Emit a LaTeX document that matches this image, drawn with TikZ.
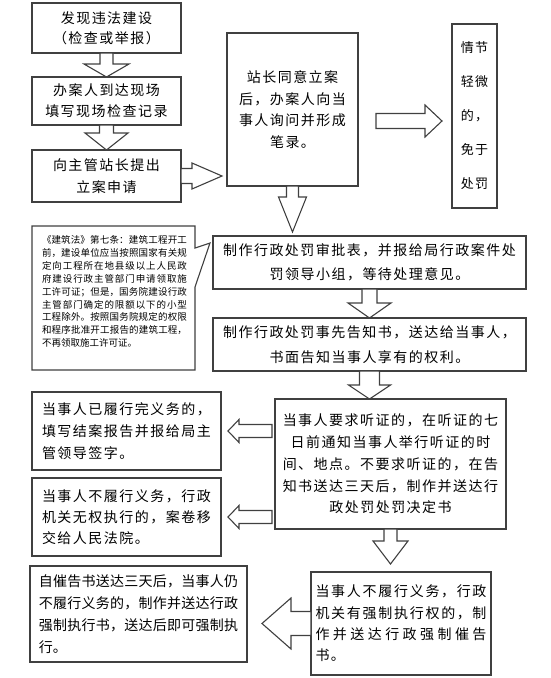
\documentclass[tikz,border=0pt]{standalone}
\usepackage{fontspec}
\setmainfont{Noto Sans CJK SC}[LetterSpace=10.7]
\newfontfamily\cjktight{Noto Sans CJK SC}[LetterSpace=1.5]
\newfontfamily\cjknote{Noto Sans CJK SC}
\XeTeXlinebreaklocale "zh"
\XeTeXlinebreakskip=0pt plus 3pt
\usetikzlibrary{positioning, calc}
\definecolor{clrborder}{HTML}{404040}
\definecolor{clrtext}{HTML}{000000}
\newcommand{\blockarrow}[5]{%
  \coordinate (ba_base) at ($(#2)!#5!(#1)$);
  \draw[barrow] ($(#1)!#3!90:(#2)$) -- ($(ba_base)!#3!90:(#2)$) -- ($(ba_base)!#4!90:(#2)$) -- (#2)
    -- ($(ba_base)!#4!-90:(#2)$) -- ($(ba_base)!#3!-90:(#2)$) -- ($(#1)!#3!-90:(#2)$) -- cycle;
}

\begin{document}
\begin{tikzpicture}[
    x=1pt, y=-1pt,
    box/.style={draw=clrborder, fill=white, line width=1.1pt, inner sep=0pt, outer sep=0pt,
                text=clrtext, font=\fontsize{14pt}{22pt}\selectfont, align=center},
    barrow/.style={draw=clrborder, fill=white, line width=1.1pt, line join=miter},
    notebox/.style={draw=clrborder, fill=white, line width=1.1pt, line join=miter},
    note/.style={font=\cjknote\fontsize{9.5pt}{12.9pt}\selectfont, text=clrtext,
                 text width=145pt, align=justify, inner sep=0pt},
]
\useasboundingbox (0,0) rectangle (550,678);
\node[box, minimum width=149pt, minimum height=50pt, font=\fontsize{14pt}{20pt}\selectfont] (n_1) at (106.5,28) {发现违法建设\\（检查或举报）};
\node[box, minimum width=149pt, minimum height=48pt, font=\fontsize{14pt}{21pt}\selectfont, below=24pt of n_1] (n_2) {办案人到达现场\\填写现场检查记录};
\node[box, minimum width=149pt, minimum height=52pt, below=25pt of n_2] (n_3) {向主管站长提出\\立案申请};
\node[box, minimum width=131pt, minimum height=153pt, font=\fontsize{14pt}{21.7pt}\selectfont] (n_4) at (292.5,109.5) {站长同意立案\\后，办案人向当\\事人询问并形成\\笔录。};
\node[box, minimum width=45pt, minimum height=184pt, align=left, font=\fontsize{13pt}{34pt}\selectfont] (n_5) at (474.5,116) {情节\\轻微\\的，\\免于\\处罚};
\node[box, minimum width=313pt, minimum height=53pt, font=\fontsize{14pt}{24pt}\selectfont] (n_7) at (369.5,262.5) {制作行政处罚审批表，并报给局行政案件处\\罚领导小组，等待处理意见。};
\node[box, minimum width=313pt, minimum height=53pt, font=\fontsize{14pt}{24.5pt}\selectfont, below=29pt of n_7] (n_8) {制作行政处罚事先告知书，送达给当事人，\\书面告知当事人享有的权利。};
\node[box, minimum width=231pt, minimum height=130pt, font=\fontsize{14pt}{21.8pt}\selectfont] (n_11) at (390.5,464) {当事人要求听证的，在听证的七\\日前通知当事人举行听证的时\\间、地点。不要求听证的，在告\\知书送达三天后，制作并送达行\\政处罚处罚决定书};
\node[box, minimum width=189pt, minimum height=78pt, align=left] (n_9) at (126.5,431) {当事人已履行完义务的，\\填写结案报告并报给局主\\管领导签字。};
\node[box, minimum width=189pt, minimum height=78pt, align=left, font=\fontsize{14pt}{21pt}\selectfont, below=8pt of n_9] (n_10) {当事人不履行义务，行政\\机关无权执行的，案卷移\\交给人民法院。};
\node[box, minimum width=180pt, minimum height=103pt, text width=171pt, align=justify, font=\fontsize{14pt}{21.3pt}\selectfont] (n_12) at (401,623.5) {当事人不履行义务，行政\break 机关有强制执行权的，制\break 作并送达行政强制催告\break 书。};
\node[box, minimum width=217pt, minimum height=96pt, text width=199.5pt, align=justify, font=\cjktight\fontsize{14pt}{22pt}\selectfont] (n_13) at (138.5,614) {自催告书送达三天后，当事人仍\break 不履行义务的，制作并送达行政\break 强制执行书，送达后即可强制执\break 行。};
\coordinate[xshift=-3pt, yshift=-7pt] (c_tip) at (n_7.north west);
\draw[notebox] (32,226) -- (195,226) -- (195,248) -- (c_tip) -- (195,287) -- (195,370) -- (32,370) -- cycle;
\node[note] (n_6) at (114.5,291.5) {《建筑法》第七条：建筑工程开工\break 前，建设单位应当按照国家有关规\break 定向工程所在地县级以上人民政\break 府建设行政主管部门申请领取施\break 工许可证；但是，国务院建设行政\break 主管部门确定的限额以下的小型\break 工程除外。按照国务院规定的权限\break 和程序批准开工报告的建筑工程，\break 不再领取施工许可证。};
\blockarrow{n_1.south}{n_2.north}{6.5pt}{22.5pt}{13pt}
\blockarrow{n_2.south}{n_3.north}{7pt}{21.5pt}{17pt}
\coordinate[xshift=41pt] (t_3) at (n_3.east);
\blockarrow{n_3.east}{t_3}{7.5pt}{13pt}{30pt}
\coordinate (s_5) at (376,121);
\coordinate (t_5) at (442,121);
\blockarrow{s_5}{t_5}{7.5pt}{16pt}{17pt}
\coordinate[yshift=4pt] (t_4) at (n_4.south |- n_7.north);
\blockarrow{n_4.south}{t_4}{6pt}{14pt}{35pt}
\blockarrow{n_7.south}{n_8.north}{7.5pt}{21.5pt}{15pt}
\coordinate (t_8) at (n_8.south |- n_11.north);
\blockarrow{n_8.south}{t_8}{10pt}{21pt}{14pt}
\coordinate[yshift=8pt] (t_11) at (n_11.south |- n_12.north);
\blockarrow{n_11.south}{t_11}{6.5pt}{17.5pt}{23pt}
\coordinate[xshift=-3pt] (s_9) at (n_11.west |- n_9.east);
\coordinate[xshift=7pt] (t_9) at (n_9.east);
\blockarrow{s_9}{t_9}{6.5pt}{11.5pt}{11pt}
\coordinate[xshift=-3pt] (s_10) at (n_11.west |- n_10.east);
\coordinate[xshift=7pt] (t_10) at (n_10.east);
\blockarrow{s_10}{t_10}{6.5pt}{11.5pt}{11pt}
\coordinate[xshift=15pt] (t_12) at (n_13.east |- n_12.west);
\blockarrow{n_12.west}{t_12}{12pt}{25.5pt}{29pt}
\end{tikzpicture}
\end{document}
